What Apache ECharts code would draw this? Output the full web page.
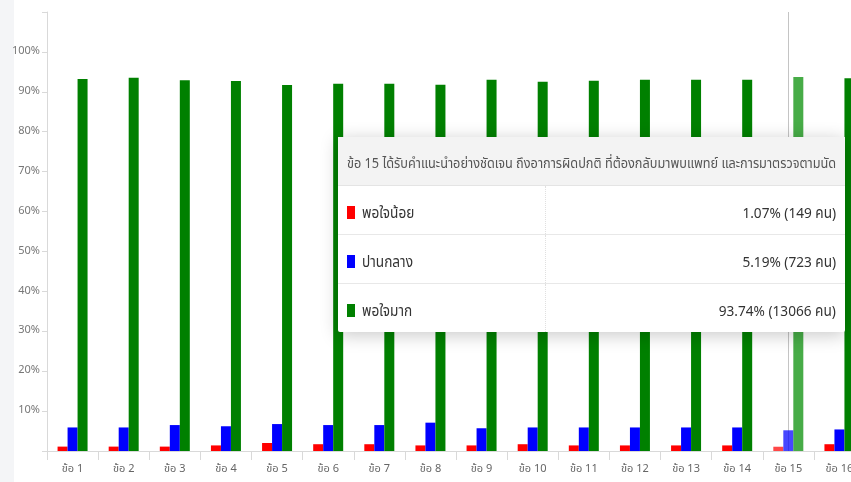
<!DOCTYPE html>
<html>
<head>
<meta charset="utf-8">
<script src="https://cdn.jsdelivr.net/npm/echarts@6/dist/echarts.min.js"></script>
<style>
  html, body { margin: 0; padding: 0; }
  body {
    width: 851px; height: 482px; overflow: hidden; position: relative;
    background: linear-gradient(to right, #f4f5f7 0, #f4f5f7 14px, #ffffff 14px);
    font-family: "Noto Sans Thai", "Noto Sans", "DejaVu Sans", sans-serif;
  }
  #chart { width: 870px; height: 482px; }
  .tip { width: 507px; table-layout: fixed; font-size: 15px; color: #333; border-collapse: collapse; }
  .tip th { background: #f3f3f3; color: #555; font-weight: normal; font-size: 14px;
            text-align: left; height: 43px; padding: 5px 9px 0; border-bottom: 1px solid #e4e4e4;
            white-space: nowrap; overflow: visible; }
  .tip td { height: 42px; padding: 6px 9px 0; border-bottom: 1px solid #e8e8e8; white-space: nowrap; }
  .tip tr:last-child td { border-bottom: none; }
  .tip td.name { border-right: 1px dotted #e0e0e0; }
  .tip td.val { text-align: right; }
  .sw { display: inline-block; width: 8px; height: 13px; margin-right: 7px; vertical-align: -1px; }
  .cl { display: inline-block; transform-origin: left center; }
  .cr { display: inline-block; transform-origin: right center; }
</style>
</head>
<body>
<div id="chart"></div>
<script>
// Survey items and satisfaction shares (%)
const categories = ['ข้อ 1','ข้อ 2','ข้อ 3','ข้อ 4','ข้อ 5','ข้อ 6','ข้อ 7','ข้อ 8',
                    'ข้อ 9','ข้อ 10','ข้อ 11','ข้อ 12','ข้อ 13','ข้อ 14','ข้อ 15','ข้อ 16'];
const seriesNames = ['พอใจน้อย', 'ปานกลาง', 'พอใจมาก'];
const lowPct  = [1.1, 1.1, 1.1, 1.4, 2.0, 1.7, 1.7, 1.4, 1.4, 1.7, 1.4, 1.4, 1.4, 1.4, 1.07, 1.7];
const midPct  = [5.9, 5.9, 6.5, 6.2, 6.75, 6.5, 6.5, 7.1, 5.7, 5.9, 5.9, 5.9, 5.9, 5.9, 5.19, 5.4];
const highPct = [93.2, 93.5, 92.9, 92.7, 91.7, 92.0, 92.0, 91.8, 93.0, 92.5, 92.8, 93.0, 93.0, 93.0, 93.74, 93.4];
const yTicks = [10, 20, 30, 40, 50, 60, 70, 80, 90, 100];

// Item 15 detail shown in the tooltip
const item15Index = 14;
const item15Title = 'ข้อ 15 ได้รับคำแนะนำอย่างชัดเจน ถึงอาการผิดปกติ ที่ต้องกลับมาพบแพทย์ และการมาตรวจตามนัด';
const item15Counts = [149, 723, 13066];

const colors = ['#ff0000', '#0000ff', '#008000'];
const font = '"Noto Sans Thai", "Noto Sans", "DejaVu Sans", sans-serif';

// Horizontal squeeze so the tooltip text reads like a condensed face
const measureCtx = document.createElement('canvas').getContext('2d');
measureCtx.font = '14px ' + font;
const squeeze = Math.min(1, 489 / measureCtx.measureText(item15Title).width);

function withFocus(values) {
  return values.map((v, i) => i === item15Index ? { value: v, itemStyle: { opacity: 0.72 } } : v);
}

const chart = echarts.init(document.getElementById('chart'), null, { renderer: 'canvas' });

chart.setOption({
  animation: false,
  textStyle: { fontFamily: font },
  grid: { left: 47, top: 12, right: 5, bottom: 31, containLabel: false },
  tooltip: {
    trigger: 'axis',
    triggerOn: 'none',
    alwaysShowContent: true,
    transitionDuration: 0,
    padding: 0,
    borderWidth: 0,
    backgroundColor: '#fff',
    extraCssText: 'box-shadow: 0 3px 18px rgba(0,0,0,0.22); border-radius: 2px;',
    axisPointer: { type: 'line', z: 1, lineStyle: { color: '#c4c4c4', width: 1, type: 'solid' } },
    position: [338, 137],
    formatter: function (params) {
      const sq = 'style="transform:scaleX(' + squeeze.toFixed(3) + ')"';
      const rows = params.map(p => {
        const cnt = item15Counts[p.seriesIndex];
        return '<tr><td class="name"><span class="sw" style="background:' + colors[p.seriesIndex] + '"></span>' +
          '<span class="cl" ' + sq + '>' + p.seriesName + '</span></td>' +
          '<td class="val"><span class="cr" ' + sq + '>' + Number(p.value).toFixed(2) + '% (' + cnt + ' คน)</span></td></tr>';
      }).join('');
      return '<table class="tip"><colgroup><col style="width:207px"><col style="width:300px"></colgroup>' +
        '<tr><th colspan="2"><span class="cl" ' + sq + '>' + item15Title + '</span></th></tr>' +
        rows + '</table>';
    }
  },
  xAxis: {
    type: 'category',
    data: categories,
    axisLine: { lineStyle: { color: '#d9d9d9' } },
    axisTick: { show: true, length: 9, lineStyle: { color: '#d9d9d9' } },
    axisLabel: { color: '#666', fontSize: 11, margin: 13 }
  },
  yAxis: {
    type: 'value',
    min: 0, max: 110, interval: 10,
    axisLine: { show: true, lineStyle: { color: '#d9d9d9' } },
    axisTick: { show: true, length: 5, lineStyle: { color: '#d9d9d9' } },
    splitLine: { show: false },
    axisLabel: {
      color: '#777', fontSize: 11, margin: 7,
      formatter: v => yTicks.includes(v) ? v + '%' : ''
    }
  },
  series: [
    { name: seriesNames[0], type: 'bar', barWidth: 10, barGap: '0%', itemStyle: { color: colors[0] }, data: withFocus(lowPct) },
    { name: seriesNames[1], type: 'bar', barWidth: 10, barGap: '0%', itemStyle: { color: colors[1] }, data: withFocus(midPct) },
    { name: seriesNames[2], type: 'bar', barWidth: 10, barGap: '0%', itemStyle: { color: colors[2] }, data: withFocus(highPct) }
  ]
});

chart.dispatchAction({ type: 'showTip', seriesIndex: 0, dataIndex: item15Index });
</script>
</body>
</html>
